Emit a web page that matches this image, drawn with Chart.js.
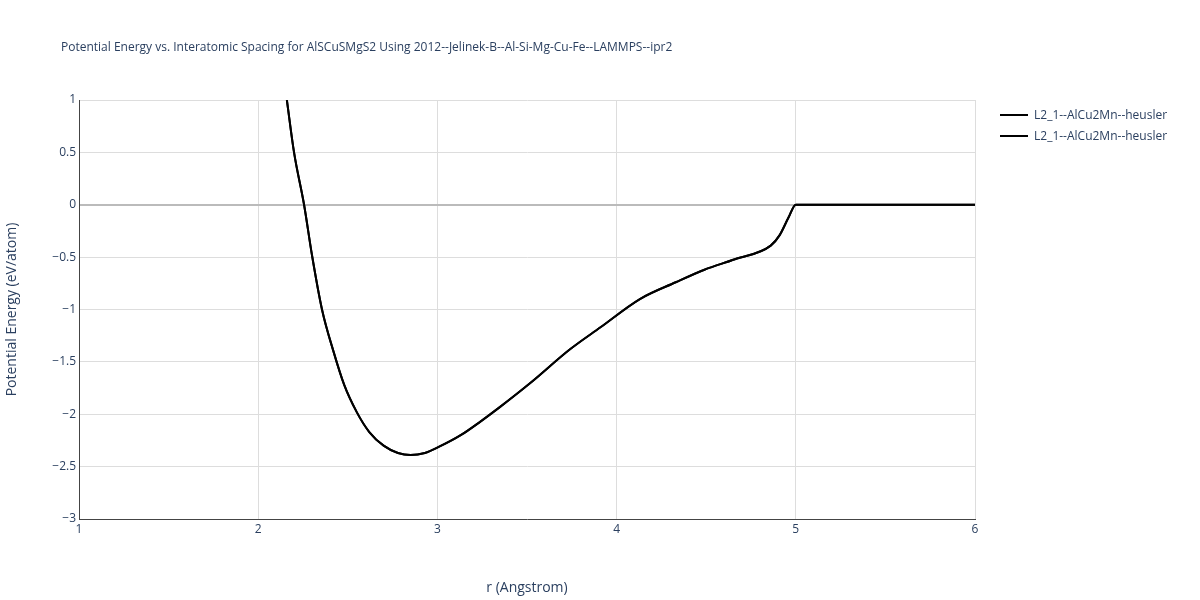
<!DOCTYPE html>
<html><head><meta charset="utf-8">
<script src="https://cdn.jsdelivr.net/npm/chart.js@4"></script>
<style>body{margin:0;background:#fff;font-family:'Open Sans',sans-serif}#w{width:1200px;height:600px;position:relative}
#t{position:absolute;left:61px;top:38px;font-size:12px;color:#2a3f5f}
.lg{position:absolute;left:1000px;font-size:12px;color:#2a3f5f;display:flex;align-items:center}
.lg span{display:inline-block;width:28px;height:2px;background:#000;margin-right:6px}
#c{position:absolute;left:0;top:0}</style>
</head><body><div id="w"><canvas id="c" width="1200" height="600"></canvas>
<div id="t">Potential Energy vs. Interatomic Spacing for AlSCuSMgS2 Using 2012--Jelinek-B--Al-Si-Mg-Cu-Fe--LAMMPS--ipr2</div>
<div id="lgs"></div></div>
<script>
const rValues=[2.16,2.2,2.256,2.3,2.356,2.42,2.48,2.55,2.62,2.7,2.78,2.85,2.93,3.01,3.13,3.24,3.35,3.52,3.74,3.91,4.13,4.33,4.49,4.66,4.86,4.91,4.96,5.0,5.5,6.0];
const energyValues=[1,0.5,0,-0.48,-1.0,-1.4,-1.72,-1.98,-2.17,-2.3,-2.37,-2.39,-2.37,-2.31,-2.2,-2.07,-1.93,-1.70,-1.38,-1.17,-0.90,-0.74,-0.62,-0.52,-0.39,-0.29,-0.12,0,0,0];
const seriesNames=["L2_1--AlCu2Mn--heusler","L2_1--AlCu2Mn--heusler"];
const xTicks=[1,2,3,4,5,6];
const pts=rValues.map((r,i)=>({x:r,y:energyValues[i]}));
document.getElementById('lgs').innerHTML=seriesNames.map((n,i)=>`<div class="lg" style="top:${106+i*21}px"><span></span>${n}</div>`).join('');
Chart.defaults.font.family="'Open Sans', sans-serif";
new Chart(document.getElementById('c'),{
 type:'line',
 data:{datasets:seriesNames.map(n=>({label:n,data:pts,borderColor:'#000',borderWidth:2,pointRadius:0,cubicInterpolationMode:'monotone'}))},
 options:{responsive:false,animation:false,
  layout:{padding:{left:0,right:225,top:100,bottom:0}},
  plugins:{legend:{display:false},title:{display:false}},
  scales:{
   x:{type:'linear',min:1,max:6,afterBuildTicks:a=>{a.ticks=xTicks.map(v=>({value:v}))},afterFit:s=>{s.height=81},
    title:{display:true,text:'r (Angstrom)',color:'#2a3f5f',font:{size:14},padding:{top:16}},
    ticks:{color:'#2a3f5f',font:{size:12}},grid:{color:'#ddd',drawTicks:false},border:{color:'#444'}},
   y:{min:-3,max:1,afterFit:s=>{s.width=79},ticks:{stepSize:0.5,color:'#2a3f5f',font:{size:12},callback:v=>String(v).replace('-','\u2212')},
    title:{display:true,text:'Potential Energy (eV/atom)',color:'#2a3f5f',font:{size:14}},
    grid:{color:c=>c.tick&&c.tick.value===0?'#bbb':'#ddd',lineWidth:c=>c.tick&&c.tick.value===0?2:1,drawTicks:false},border:{color:'#444'}}
  }
 }
});
</script></body></html>
